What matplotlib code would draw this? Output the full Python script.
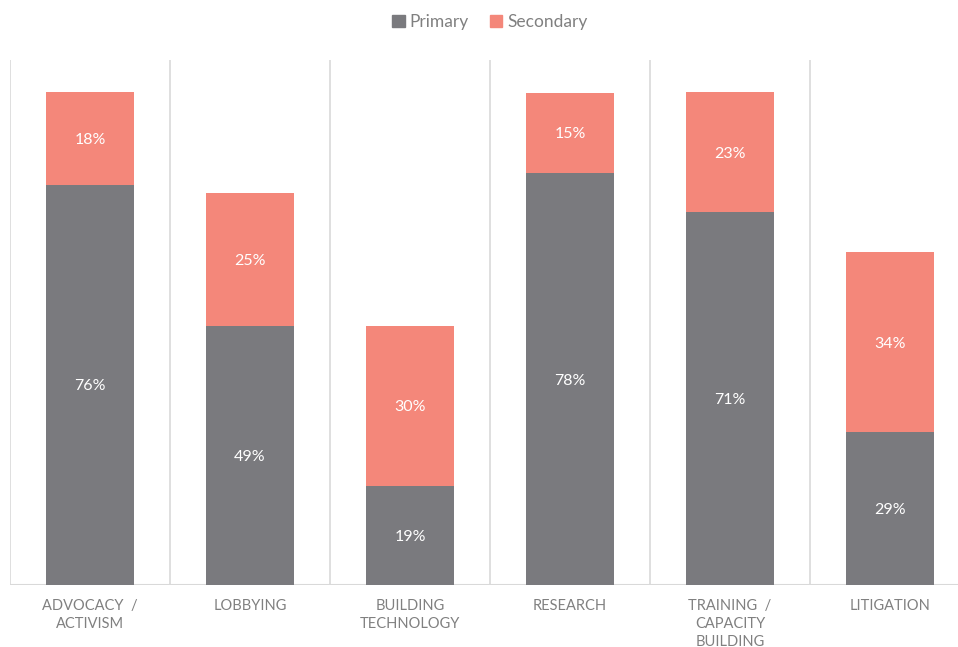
import matplotlib
matplotlib.use("Agg")
import matplotlib.pyplot as plt
from matplotlib.patches import Patch

categories = ["ADVOCACY  /\nACTIVISM", "LOBBYING", "BUILDING\nTECHNOLOGY", "RESEARCH",
              "TRAINING  /\nCAPACITY\nBUILDING", "LITIGATION"]
primary = [76.2, 49.3, 18.9, 78.4, 71.0, 29.1]
secondary = [17.7, 25.4, 30.4, 15.4, 22.9, 34.3]

c_primary = "#7a7a7e"
c_secondary = "#f4877a"
txt_gray = "#808080"

plt.rcParams['font.family'] = ['Lato', 'DejaVu Sans']

W, H = 958, 647
fig = plt.figure(figsize=(W / 100, H / 100), dpi=100)
ax = fig.add_axes([10 / W, 62 / H, 960 / W, 525 / H])

x = list(range(len(categories)))
ax.bar(x, primary, width=0.556, color=c_primary, zorder=3)
ax.bar(x, secondary, width=0.556, bottom=primary, color=c_secondary, zorder=3)

for i in x:
    ax.text(i, primary[i] / 2, f"{primary[i]:.0f}%", ha="center", va="center_baseline",
            color="white", fontsize=11.5, zorder=4)
    ax.text(i, primary[i] + secondary[i] / 2, f"{secondary[i]:.0f}%", ha="center",
            va="center_baseline", color="white", fontsize=11.5, zorder=4)

ax.set_xlim(-0.5, len(categories) - 0.5)
ax.set_ylim(0, 100)
for b in range(len(categories) + 1):
    ax.axvline(b - 0.5, color="#d9d9d9", lw=1.2, zorder=1)
ax.axhline(0, color="#d9d9d9", lw=1.5, zorder=2)

for s in ax.spines.values():
    s.set_visible(False)
ax.set_yticks([])
ax.set_xticks(x)
ax.set_xticklabels(categories, color=txt_gray, fontsize=10.5, linespacing=1.35)
ax.tick_params(axis="x", length=0, pad=10)

handles = [Patch(color=c_primary, label="Primary"), Patch(color=c_secondary, label="Secondary")]
fig.legend(handles=handles, loc="center", bbox_to_anchor=(490 / W, 1 - 22 / H), ncol=2,
           frameon=False, fontsize=12.5, labelcolor=txt_gray, handlelength=0.7,
           handleheight=0.7, handletextpad=0.3, columnspacing=1.2)

fig.savefig("out.png", dpi=100)
